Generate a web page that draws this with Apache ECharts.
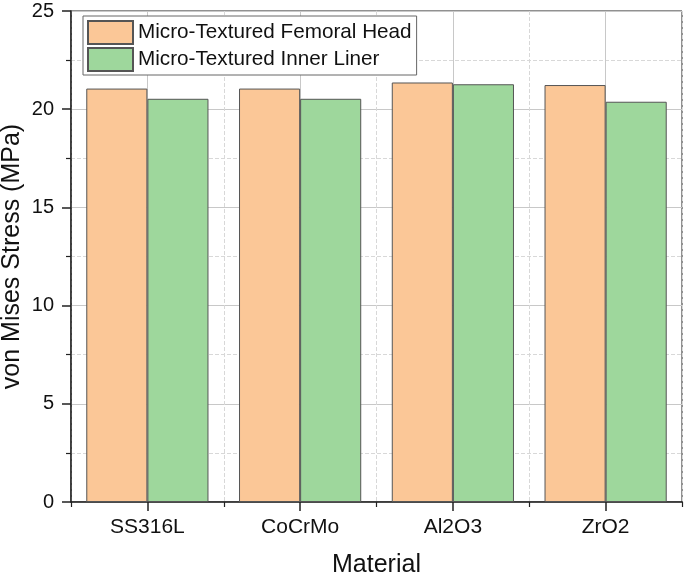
<!DOCTYPE html>
<html><head><meta charset="utf-8">
<script src="https://cdn.jsdelivr.net/npm/echarts@6/dist/echarts.min.js"></script>
<style>html,body{margin:0;padding:0;background:#fff}#c{width:685px;height:575px}</style>
</head><body><div id="c"></div>
<script>
const categories = ['SS316L', 'CoCrMo', 'Al2O3', 'ZrO2'];
const femoralHead = [21.05, 21.05, 21.36, 21.23];
const innerLiner = [20.53, 20.53, 21.27, 20.38];
const seriesNames = ['Micro-Textured Femoral Head', 'Micro-Textured Inner Liner'];
const yTicks = [0, 5, 10, 15, 20, 25];

const font = 'Liberation Sans, Arial, sans-serif';
const chart = echarts.init(document.getElementById('c'), null, {renderer: 'canvas'});
chart.setOption({
  animation: false,
  backgroundColor: '#fff',
  grid: {left: 71, right: 3, top: 11, bottom: 73, show: true, borderColor: '#222', borderWidth: 1,
         containLabel: false, outerBoundsMode: 'none'},
  legend: {
    orient: 'vertical', left: 83, top: 16,
    icon: 'rect',
    itemWidth: 45, itemHeight: 23, itemGap: 2,
    padding: [4, 5, 3, 4],
    borderColor: '#666', borderWidth: 1, backgroundColor: '#fff',
    textStyle: {fontFamily: font, fontSize: 20.7, color: '#111'},
    data: seriesNames
  },
  xAxis: [
    {
      type: 'category', data: categories, position: 'bottom',
      name: 'Material', nameLocation: 'middle', nameGap: 51, nameMoveOverlap: false,
      nameTextStyle: {fontFamily: font, fontSize: 25, color: '#111'},
      axisLine: {show: true, lineStyle: {color: '#222', width: 1.5}},
      axisTick: {show: true, alignWithLabel: true, length: 9, inside: false, lineStyle: {color: '#222', width: 1.5}},
      axisLabel: {fontFamily: font, fontSize: 21, color: '#111', margin: 15},
      splitLine: {show: false}
    },
    {
      type: 'value', min: 0, max: 8, interval: 2, position: 'bottom',
      axisLine: {show: false},
      axisLabel: {show: false},
      axisTick: {show: true, length: 5, lineStyle: {color: '#222', width: 1.2}},
      splitLine: {show: true, lineStyle: {color: '#d8d8d8', type: 'dashed', width: 1}},
      minorTick: {show: false, splitNumber: 2},
      minorSplitLine: {show: true, lineStyle: {color: '#c8c8c8', width: 1}}
    }
  ],
  yAxis: {
    type: 'value', min: 0, max: 25, interval: 5,
    name: 'von Mises Stress (MPa)', nameLocation: 'middle', nameGap: 46, nameMoveOverlap: false,
    nameTextStyle: {fontFamily: font, fontSize: 25, color: '#111'},
    axisLine: {show: true, lineStyle: {color: '#222', width: 1.5}},
    axisTick: {show: true, length: 9, lineStyle: {color: '#222', width: 1.5}},
    minorTick: {show: true, splitNumber: 2, length: 5, lineStyle: {color: '#222', width: 1.2}},
    axisLabel: {fontFamily: font, fontSize: 20, color: '#111', margin: 17,
      formatter: v => yTicks.includes(v) ? String(v) : ''},
    splitLine: {show: true, lineStyle: {color: '#c8c8c8', width: 1}},
    minorSplitLine: {show: true, lineStyle: {color: '#d8d8d8', type: 'dashed', width: 1}}
  },
  series: [
    {
      name: seriesNames[0], type: 'bar', data: femoralHead, xAxisIndex: 0,
      barGap: '0%', barCategoryGap: '20%',
      itemStyle: {color: '#FBC797', borderColor: '#555', borderWidth: 1}
    },
    {
      name: seriesNames[1], type: 'bar', data: innerLiner, xAxisIndex: 0,
      barGap: '0%', barCategoryGap: '20%',
      itemStyle: {color: '#9ED79C', borderColor: '#555', borderWidth: 1}
    }
  ]
});
</script></body></html>
